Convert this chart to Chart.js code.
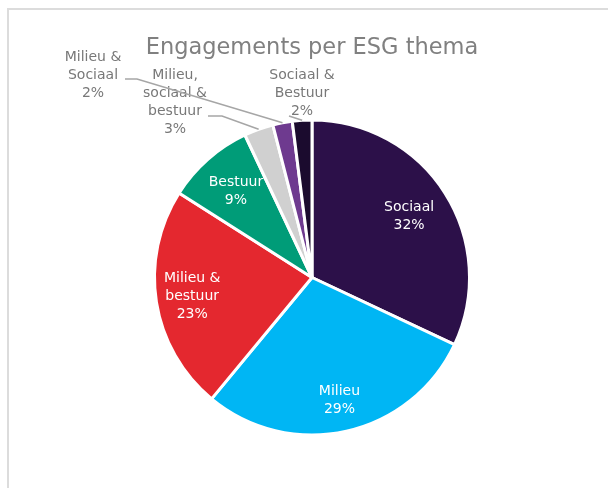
<!DOCTYPE html>
<html><head><meta charset="utf-8">
<script src="https://cdn.jsdelivr.net/npm/chart.js@4.4.1/dist/chart.umd.min.js"></script>
<style>html,body{margin:0;padding:0;background:#fff}#wrap{width:608px;height:488px;position:relative}</style>
</head><body><div id="wrap"><canvas id="c" width="608" height="488"></canvas></div>
<script>
// ---- data ----
const categories = ['Sociaal', 'Milieu', 'Milieu & bestuur', 'Bestuur', 'Milieu, sociaal & bestuur', 'Milieu & Sociaal', 'Sociaal & Bestuur'];
const labelLines = [['Sociaal'], ['Milieu'], ['Milieu &', 'bestuur'], ['Bestuur'], ['Milieu,', 'sociaal &', 'bestuur'], ['Milieu &', 'Sociaal'], ['Sociaal &', 'Bestuur']];
const values = [32, 29, 23, 9, 3, 2, 2];
const colors = ['#2C1049', '#00B6F4', '#E4282F', '#009C78', '#D0D0D0', '#6E3A8F', '#1B0B2E'];
const titleText = 'Engagements per ESG thema';

// ---- label layout (not data) ----
const insideFrac = {0: 0.73, 1: 0.80, 2: 0.77, 3: 0.73};
const outside = {
  4: {x: 175, y: 75, leader: [[208, 116], [222, 116]]},
  5: {x: 93, y: 57, leader: [[125, 79], [137, 79]]},
  6: {x: 302, y: 75, leader: [[289, 116]]}
};
const FONT = '"DejaVu Sans", sans-serif';
const LH = 18;

const labelPlugin = {
  id: 'sliceLabels',
  beforeDraw(chart) {
    const ctx = chart.ctx;
    ctx.save();
    ctx.strokeStyle = '#DCDCDC';
    ctx.lineWidth = 2;
    ctx.beginPath();
    ctx.moveTo(8, 488);
    ctx.lineTo(8, 9);
    ctx.lineTo(608, 9);
    ctx.stroke();
    ctx.restore();
  },
  afterDatasetsDraw(chart) {
    const ctx = chart.ctx;
    const meta = chart.getDatasetMeta(0);
    const total = values.reduce((a, b) => a + b, 0);
    ctx.save();
    ctx.font = '14px ' + FONT;
    ctx.textAlign = 'center';
    ctx.textBaseline = 'middle';
    meta.data.forEach((arc, i) => {
      const p = arc.getProps(['x', 'y', 'startAngle', 'endAngle', 'outerRadius'], true);
      const mid = (p.startAngle + p.endAngle) / 2;
      const lines = labelLines[i].concat([Math.round(values[i] / total * 100) + '%']);
      if (insideFrac[i] !== undefined) {
        const r = p.outerRadius * insideFrac[i];
        const cx = p.x + Math.cos(mid) * r;
        const cy = p.y + Math.sin(mid) * r;
        ctx.fillStyle = '#FFFFFF';
        lines.forEach((t, k) => {
          ctx.fillText(t, cx, cy + (k - (lines.length - 1) / 2) * LH);
        });
      } else {
        const o = outside[i];
        ctx.fillStyle = '#787878';
        lines.forEach((t, k) => ctx.fillText(t, o.x, o.y + k * LH));
        const ex = p.x + Math.cos(mid) * p.outerRadius;
        const ey = p.y + Math.sin(mid) * p.outerRadius;
        ctx.strokeStyle = '#A6A6A6';
        ctx.lineWidth = 1.5;
        ctx.beginPath();
        o.leader.forEach((pt, k) => k === 0 ? ctx.moveTo(pt[0], pt[1]) : ctx.lineTo(pt[0], pt[1]));
        ctx.lineTo(ex, ey);
        ctx.stroke();
      }
    });
    ctx.restore();
  }
};

new Chart(document.getElementById('c'), {
  type: 'pie',
  data: {
    labels: categories,
    datasets: [{
      data: values,
      backgroundColor: colors,
      borderColor: '#FFFFFF',
      borderWidth: 3,
      radius: 157.5
    }]
  },
  options: {
    responsive: false,
    animation: false,
    events: [],
    layout: {padding: {left: 16, right: 0, top: 0, bottom: 0}},
    plugins: {
      legend: {display: false},
      tooltip: {enabled: false},
      title: {
        display: true,
        text: titleText,
        color: '#808080',
        font: {family: FONT, size: 22.5, weight: 'normal'},
        padding: {top: 35, bottom: 5}
      }
    }
  },
  plugins: [labelPlugin]
});
</script>
</body></html>
